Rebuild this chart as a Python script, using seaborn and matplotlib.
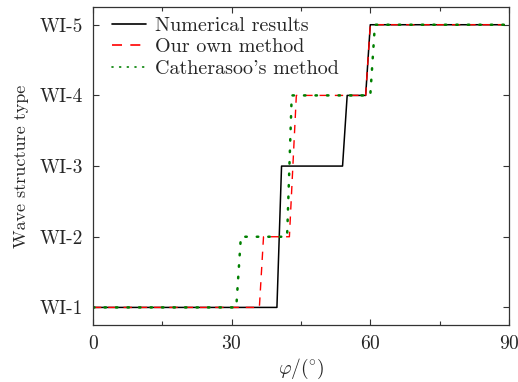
import matplotlib
matplotlib.use("Agg")
import matplotlib.pyplot as plt
import seaborn as sns
import pandas as pd

# Wave structure type (1..5 -> WI-1..WI-5) versus angle phi
num_x = [0, 39.8, 40.8, 54.0, 55.0, 59.0, 60.0, 89]
num_y = [1, 1, 3, 3, 4, 4, 5, 5]

own_x = [0, 36.0, 36.9, 42.5, 44.0, 59.0, 60.0, 89]
own_y = [1, 1, 2, 2, 4, 4, 5, 5]

cat_x = [0, 31.0, 32.0, 42.0, 43.0, 60.0, 61.0, 89]
cat_y = [1, 1, 2, 2, 4, 4, 5, 5]

ytick_vals = [1, 2, 3, 4, 5]
ytick_labels = ["WI-1", "WI-2", "WI-3", "WI-4", "WI-5"]
xtick_vals = [0, 30, 60, 90]

sns.set_theme(style="ticks")
plt.rcParams.update({
    "font.family": "serif",
    "font.serif": ["cmr10"],
    "mathtext.fontset": "cm",
    "axes.formatter.use_mathtext": True,
    "axes.unicode_minus": False,
})

fig = plt.figure(figsize=(5.18, 3.82), dpi=100)
ax = fig.add_axes([0.1795, 0.149, 0.803, 0.8325])

sns.lineplot(x=num_x, y=num_y, ax=ax, color="black", lw=1.1,
             estimator=None, sort=False, label="Numerical results")
sns.lineplot(x=own_x, y=own_y, ax=ax, color="red", lw=1.0,
             estimator=None, sort=False, label="Our own method")
sns.lineplot(x=cat_x, y=cat_y, ax=ax, color="green", lw=1.8,
             estimator=None, sort=False, label="Catherasoo's method")
ax.lines[1].set_dashes([6, 5])
ax.lines[2].set_dashes([0.6, 4])
ax.lines[2].set_dash_capstyle("round")

ax.set_xlim(0, 90)
ax.set_ylim(0.75, 5.25)
ax.set_xticks(xtick_vals)
ax.set_xticks([15, 45, 75], minor=True)
ax.set_yticks(ytick_vals)
ax.set_yticklabels(ytick_labels)
ax.tick_params(which="both", direction="in", top=True, right=True,
               labelsize=14, color="#333333")
ax.tick_params(axis="x", pad=7)
ax.tick_params(axis="y", pad=7)
ax.tick_params(which="major", length=4, width=0.8)
ax.tick_params(which="minor", length=3, width=0.8)
for s in ax.spines.values():
    s.set_linewidth(0.9)
    s.set_color("#333333")

ax.set_xlabel(r"$\varphi/(^{\circ})$", fontsize=14, labelpad=3)
ax.set_ylabel("Wave structure type", fontsize=13, labelpad=8)

leg = ax.legend(loc="upper left", frameon=False, fontsize=14.5,
                handlelength=1.7, handletextpad=0.45, labelspacing=0.15,
                borderpad=0.3, borderaxespad=0.0,
                bbox_to_anchor=(0.03, 0.987))
for h in leg.get_lines():
    h.set_linewidth(1.2)

fig.savefig("out.png", dpi=100)
